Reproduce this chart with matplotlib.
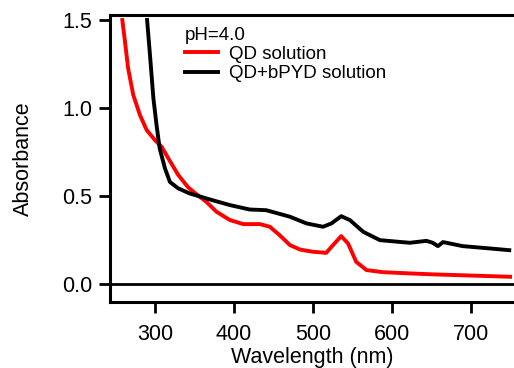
import numpy as np
import matplotlib.pyplot as plt

plt.rcParams['font.family'] = ['Liberation Sans', 'DejaVu Sans']

# QD solution (red)
wl_qd = [258.6, 262, 266, 272.5, 281, 289.5, 300, 308.5, 317, 329.5, 342, 350,
         365, 378, 395, 412, 433, 445.6, 458, 464.6, 471, 483.5, 500, 517, 525.7,
         536, 544.7, 555, 568, 589, 618.6, 650, 700, 750]
abs_qd = [1.50, 1.377, 1.225, 1.074, 0.96, 0.875, 0.818, 0.78, 0.714, 0.62, 0.55,
          0.52, 0.468, 0.411, 0.364, 0.341, 0.341, 0.326, 0.278, 0.25, 0.222, 0.197,
          0.184, 0.178, 0.222, 0.273, 0.231, 0.127, 0.08, 0.068, 0.062, 0.056,
          0.049, 0.042]

# QD+bPYD solution (black)
wl_bp = [290, 293.7, 298, 302, 306, 312.7, 319, 329.5, 344, 369.6, 395, 420, 441,
         471, 492, 513, 523.7, 536, 547, 564, 585, 610, 623, 644, 652, 658.6, 665,
         690, 724, 749]
abs_bp = [1.50, 1.30, 1.055, 0.903, 0.77, 0.657, 0.58, 0.544, 0.515, 0.481, 0.449,
          0.424, 0.42, 0.383, 0.345, 0.326, 0.345, 0.386, 0.364, 0.297, 0.25, 0.24,
          0.235, 0.246, 0.235, 0.216, 0.239, 0.216, 0.203, 0.193]

fig = plt.figure(figsize=(5.14, 3.68), dpi=100)
ax = fig.add_axes([0.214, 0.179, 0.786, 0.78])

ax.axhline(0, color='black', lw=2)
ax.plot(wl_qd, abs_qd, color='#ff0000', lw=2.8, label='QD solution',
        solid_joinstyle='round')
ax.plot(wl_bp, abs_bp, color='black', lw=2.8, label='QD+bPYD solution',
        solid_joinstyle='round')

ax.set_xlim(243, 755)
ax.set_ylim(-0.102, 1.528)
ax.set_xticks([300, 400, 500, 600, 700])
ax.set_yticks([0.0, 0.5, 1.0, 1.5])
ax.set_yticklabels(['0.0', '0.5', '1.0', '1.5'])

for s in ['left', 'bottom', 'top']:
    ax.spines[s].set_linewidth(2.2)
ax.spines['right'].set_visible(False)
ax.tick_params(direction='out', length=8, width=2, labelsize=15.5)
ax.tick_params(axis='x', pad=8)
ax.tick_params(axis='y', pad=5)

ax.set_xlabel('Wavelength (nm)', fontsize=15.5, labelpad=1)
ax.set_ylabel('Absorbance', fontsize=15.5, labelpad=20)

leg = ax.legend(title='pH=4.0', loc='upper left', bbox_to_anchor=(0.185, 0.96),
                frameon=False, fontsize=13.5, title_fontsize=13.5,
                handlelength=1.8, handletextpad=0.55, labelspacing=0.12,
                borderpad=0, borderaxespad=0, alignment='left')

fig.savefig('out.png', dpi=100)
